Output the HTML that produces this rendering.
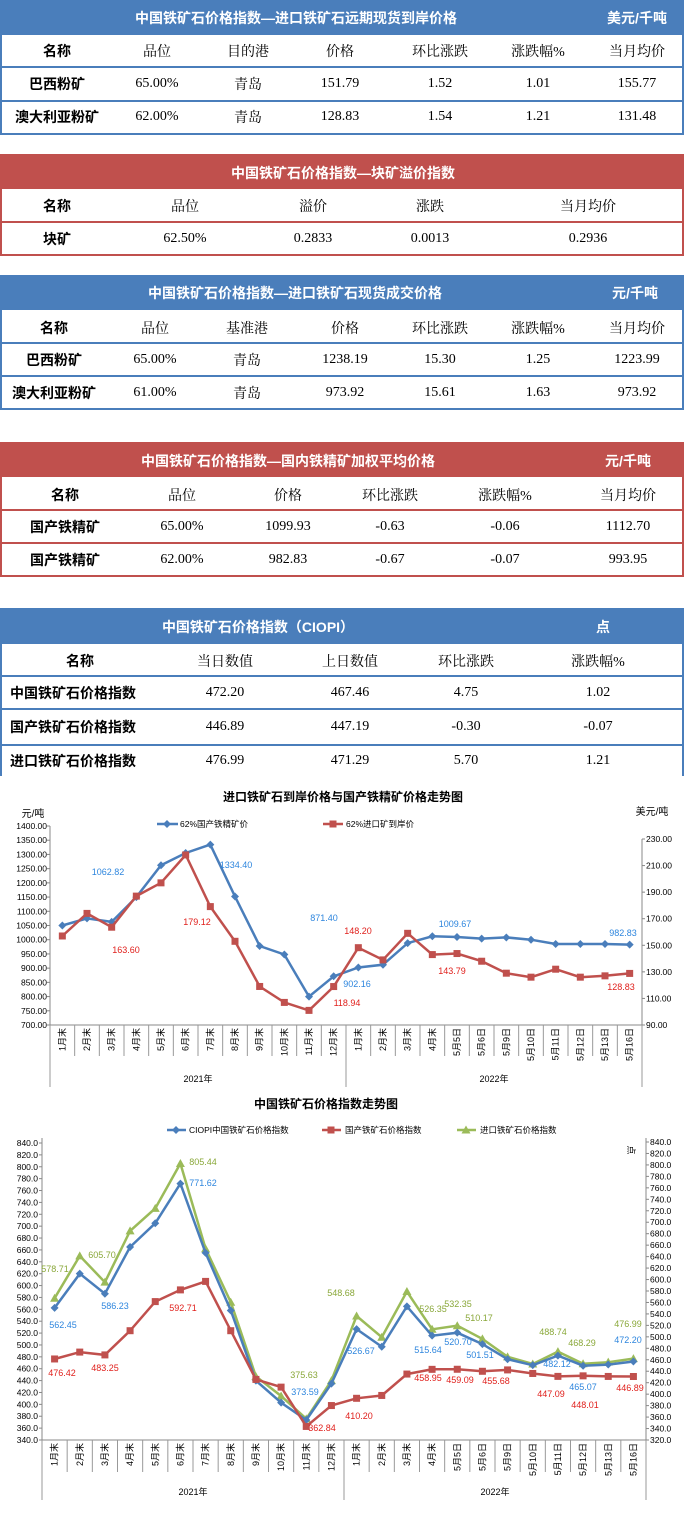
<!DOCTYPE html>
<html><head><meta charset="utf-8">
<style>
html,body{margin:0;padding:0;background:#fff;}
body{width:684px;height:1524px;position:relative;overflow:hidden;font-family:"Liberation Sans","Noto Sans CJK SC",sans-serif;}
.t{position:absolute;white-space:nowrap;transform:translate(-50%,-50%);font-size:14px;color:#000;font-family:"Liberation Serif","Noto Serif CJK SC",serif;}
.b{font-weight:bold;font-family:"Liberation Sans","Noto Sans CJK SC",sans-serif;}
.ti{color:#fff;font-weight:bold;font-size:14px;font-family:"Liberation Sans","Noto Sans CJK SC",sans-serif;}
.bar{position:absolute;left:0;width:684px;}
.ln{position:absolute;left:0;width:684px;height:2px;}
.vl{position:absolute;width:2px;}
svg{position:absolute;left:0;}
svg text{font-family:"Liberation Sans","Noto Sans CJK SC",sans-serif;}
</style></head><body>
<div id="root"></div>
<svg id="c1" width="684" height="1524" style="top:0"></svg>
<script>
var root=document.getElementById('root');
function el(h){root.insertAdjacentHTML('beforeend',h);}
function txt(x,y,s,cls){el('<div class="t '+(cls||'')+'" style="left:'+x+'px;top:'+y+'px">'+s+'</div>');}
function table(col,top,bottom,lines,noBottom){
  el('<div class="bar" style="top:'+top+'px;height:35px;background:'+col+'"></div>');
  lines.forEach(function(y){el('<div class="ln" style="top:'+y+'px;background:'+col+'"></div>');});
  el('<div class="vl" style="left:0;top:'+top+'px;height:'+(bottom-top)+'px;background:'+col+'"></div>');
  el('<div class="vl" style="left:682px;top:'+top+'px;height:'+(bottom-top)+'px;background:'+col+'"></div>');
  if(!noBottom) el('<div class="ln" style="top:'+(bottom-2)+'px;background:'+col+'"></div>');
}
var B='#4a7ebb',R='#c0504d';
table(B,0,135,[66,100]);
txt(296,18,'中国铁矿石价格指数—进口铁矿石远期现货到岸价格','ti');txt(637,18,'美元/千吨','ti');
var c1=[57,157,248,340,440,538,637];
['名称','品位','目的港','价格','环比涨跌','涨跌幅%','当月均价'].forEach(function(s,i){txt(c1[i],51,s,i==0?'b':'');});
['巴西粉矿','65.00%','青岛','151.79','1.52','1.01','155.77'].forEach(function(s,i){txt(c1[i],84,s,i==0?'b':'');});
['澳大利亚粉矿','62.00%','青岛','128.83','1.54','1.21','131.48'].forEach(function(s,i){txt(c1[i],117,s,i==0?'b':'');});
table(R,154,256,[221]);
txt(343,173,'中国铁矿石价格指数—块矿溢价指数','ti');
var c2=[57,185,313,430,588];
['名称','品位','溢价','涨跌','当月均价'].forEach(function(s,i){txt(c2[i],206,s,i==0?'b':'');});
['块矿','62.50%','0.2833','0.0013','0.2936'].forEach(function(s,i){txt(c2[i],239,s,i==0?'b':'');});
table(B,275,410,[342,375]);
txt(295,293,'中国铁矿石价格指数—进口铁矿石现货成交价格','ti');txt(635,293,'元/千吨','ti');
var c3=[54,155,247,345,440,538,637];
['名称','品位','基准港','价格','环比涨跌','涨跌幅%','当月均价'].forEach(function(s,i){txt(c3[i],328,s,i==0?'b':'');});
['巴西粉矿','65.00%','青岛','1238.19','15.30','1.25','1223.99'].forEach(function(s,i){txt(c3[i],360,s,i==0?'b':'');});
['澳大利亚粉矿','61.00%','青岛','973.92','15.61','1.63','973.92'].forEach(function(s,i){txt(c3[i],393,s,i==0?'b':'');});
table(R,442,577,[509,542]);
txt(288,461,'中国铁矿石价格指数—国内铁精矿加权平均价格','ti');txt(628,461,'元/千吨','ti');
var c4=[65,182,288,390,505,628];
['名称','品位','价格','环比涨跌','涨跌幅%','当月均价'].forEach(function(s,i){txt(c4[i],495,s,i==0?'b':'');});
['国产铁精矿','65.00%','1099.93','-0.63','-0.06','1112.70'].forEach(function(s,i){txt(c4[i],527,s,i==0?'b':'');});
['国产铁精矿','62.00%','982.83','-0.67','-0.07','993.95'].forEach(function(s,i){txt(c4[i],560,s,i==0?'b':'');});
table(B,608,776,[642,675,708,744],true);
txt(258,627,'中国铁矿石价格指数（CIOPI）','ti');txt(603,627,'点','ti');
var c5=[80,225,350,466,598];
['名称','当日数值','上日数值','环比涨跌','涨跌幅%'].forEach(function(s,i){txt(c5[i],661,s,i==0?'b':'');});
[['中国铁矿石价格指数','472.20','467.46','4.75','1.02',693],['国产铁矿石价格指数','446.89','447.19','-0.30','-0.07',727],['进口铁矿石价格指数','476.99','471.29','5.70','1.21',761]].forEach(function(r){
  for(var i=0;i<5;i++){ if(i==0) el('<div class="t b" style="left:10px;top:'+r[5]+'px;transform:translate(0,-50%)">'+r[0]+'</div>'); else txt(c5[i],r[5],r[i]); }
});

var svg=document.getElementById('c1'),S='';
function T(x,y,s,o){o=o||{};S+='<text x="'+x+'" y="'+y+'" font-size="'+(o.fs||9)+'" fill="'+(o.c||'#000')+'" text-anchor="'+(o.a||'middle')+'"'+(o.w?' font-weight="bold"':'')+(o.tr?' transform="'+o.tr+'"':'')+'>'+s+'</text>';}
function L(x1,y1,x2,y2,c,w){S+='<line x1="'+x1+'" y1="'+y1+'" x2="'+x2+'" y2="'+y2+'" stroke="'+(c||'#888')+'" stroke-width="'+(w||1)+'"/>';}
function marker(t,x,y,c){
  if(t=='d')S+='<polygon points="'+x+','+(y-4)+' '+(x+4)+','+y+' '+x+','+(y+4)+' '+(x-4)+','+y+'" fill="'+c+'"/>';
  else if(t=='s')S+='<rect x="'+(x-3.5)+'" y="'+(y-3.5)+'" width="7" height="7" fill="'+c+'"/>';
  else S+='<polygon points="'+x+','+(y-4.5)+' '+(x+4.5)+','+(y+3.5)+' '+(x-4.5)+','+(y+3.5)+'" fill="'+c+'"/>';
}
function series(vals,fx,fy,c,m){
  var p=vals.map(function(v,i){return fx(i).toFixed(1)+','+fy(v).toFixed(1);}).join(' ');
  S+='<polyline points="'+p+'" fill="none" stroke="'+c+'" stroke-width="2.5"/>';
  vals.forEach(function(v,i){marker(m,fx(i),fy(v),c);});
}
var cats=['1月末','2月末','3月末','4月末','5月末','6月末','7月末','8月末','9月末','10月末','11月末','12月末','1月末','2月末','3月末','4月末','5月5日','5月6日','5月9日','5月10日','5月11日','5月12日','5月13日','5月16日'];
function cataxis(x0,x1,yA,yDiv,yYear,yBot){
  var w=(x1-x0)/24;
  L(x0,yA,x1,yA,'#888');
  for(var i=0;i<=24;i++){var x=x0+i*w; L(x,yA,x,(i==0||i==12||i==24)?yBot:yDiv,'#999');}
  cats.forEach(function(s,i){var x=x0+(i+.5)*w+3;T(x,yA+3,s,{a:'end',fs:9,tr:'rotate(-90 '+x+' '+(yA+3)+')'});});
  T(x0+6*w,yYear,'2021年',{fs:9});T(x0+18*w,yYear,'2022年',{fs:9});
}
var BL='#4a7ebb',RD='#c0504d',GR='#9bbb59',LB='#2e86de',LR='#e0201c',LG='#8aa83a';
(function(){
  var x0=50,x1=642,yT=826,yB=1025;
  var fy=function(v){return yB-(v-700)/700*(yB-yT);};
  var fyr=function(v){return yB-(v-90)/140*(yB-839);};
  var w=(x1-x0)/24,fx=function(i){return x0+(i+.5)*w;};
  T(343,801,'进口铁矿石到岸价格与国产铁精矿价格走势图',{fs:12,w:1});
  T(33,817,'元/吨',{fs:10});T(652,815,'美元/吨',{fs:10});
  L(x0,yT,x0,1087,'#888');L(x1,839,x1,1087,'#888');
  for(var v=700;v<=1400;v+=50){L(x0-3,fy(v),x0,fy(v));T(x0-3,fy(v)+3,v.toFixed(2),{a:'end',fs:8.5});}
  for(var v=90;v<=230;v+=20){L(x1,fyr(v),x1+3,fyr(v));T(x1+4,fyr(v)+3,v.toFixed(2),{a:'start',fs:8.5});}
  cataxis(x0,x1,yB,1056,1082,1087);
  L(157,824,178,824,BL,2.5);marker('d',167,824,BL);T(180,827,'62%国产铁精矿价',{a:'start',fs:8.5});
  L(323,824,343,824,RD,2.5);marker('s',333,824,RD);T(346,827,'62%进口矿到岸价',{a:'start',fs:8.5});
  series([1050,1075,1062.82,1150,1262,1305,1334.4,1152,978,948,800,871.4,902.16,912,988,1012,1009.67,1004,1008,1000,985,985,985,982.83],fx,fy,BL,'d');
  series([157,174,163.6,187,197,218,179.12,153,119,107,101,118.94,148.2,139,159,143,143.79,138,129,126,132,126,127,128.83],fx,fyr,RD,'s');
  [[108,875,'1062.82'],[236,868,'1334.40'],[324,921,'871.40'],[357,987,'902.16'],[455,927,'1009.67'],[623,936,'982.83']].forEach(function(a){T(a[0],a[1],a[2],{c:LB});});
  [[126,953,'163.60'],[197,925,'179.12'],[358,934,'148.20'],[347,1006,'118.94'],[452,974,'143.79'],[621,990,'128.83']].forEach(function(a){T(a[0],a[1],a[2],{c:LR});});
})();
(function(){
  var x0=42,x1=646,yT=1143,yB=1440;
  var fy=function(v){return yB-(v-340)/500*(yB-yT);};
  var w=(x1-x0)/24,fx=function(i){return x0+(i+.5)*w;};
  T(326,1108,'中国铁矿石价格指数走势图',{fs:12,w:1});
  L(x0,1138,x0,1500,'#888');L(x1,1138,x1,1500,'#888');
  for(var v=340;v<=840;v+=20){L(x0-3,fy(v),x0,fy(v));T(x0-4,fy(v)+3,v.toFixed(1),{a:'end',fs:8.5});}
  for(var k=0;k<=26;k++){var v=320+k*20,y=1440-k*(298/26);L(x1,y,x1+3,y);T(x1+4,y+3,v.toFixed(1),{a:'start',fs:8.5});}
  T(628,1150,'点',{fs:9,tr:'rotate(90 628 1150)'});
  cataxis(x0,x1,yB,1472,1495,1500);
  L(167,1130,186,1130,BL,2.5);marker('d',176,1130,BL);T(189,1133,'CIOPI中国铁矿石价格指数',{a:'start',fs:8.5});
  L(322,1130,341,1130,RD,2.5);marker('s',331,1130,RD);T(345,1133,'国产铁矿石价格指数',{a:'start',fs:8.5});
  L(457,1130,476,1130,GR,2.5);marker('g',466,1130,GR);T(480,1133,'进口铁矿石价格指数',{a:'start',fs:8.5});
  series([578.71,650,605.70,692,730,805.44,662,572,447,414,375.63,440,548.68,513,590,526.35,532.35,510.17,480,468,488.74,468.29,471,476.99],fx,fy,GR,'g');
  series([562.45,620,586.23,665,705,771.62,655,558,440,403,373.59,435,526.67,497,565,515.64,520.70,501.51,476,466,482.12,465.07,467,472.20],fx,fy,BL,'d');
  series([476.42,488,483.25,524,573,592.71,607,524,442,429,362.84,398,410.2,415,451,458.95,459.09,455.68,458,452,447.09,448.01,447,446.89],fx,fy,RD,'s');
  [[55,1272,'578.71'],[102,1258,'605.70'],[203,1165,'805.44'],[304,1378,'375.63'],[341,1296,'548.68'],[433,1312,'526.35'],[458,1307,'532.35'],[479,1321,'510.17'],[553,1335,'488.74'],[582,1346,'468.29'],[628,1327,'476.99']].forEach(function(a){T(a[0],a[1],a[2],{c:LG});});
  [[63,1328,'562.45'],[115,1309,'586.23'],[203,1186,'771.62'],[305,1395,'373.59'],[361,1354,'526.67'],[428,1353,'515.64'],[458,1345,'520.70'],[480,1358,'501.51'],[557,1367,'482.12'],[583,1390,'465.07'],[628,1343,'472.20']].forEach(function(a){T(a[0],a[1],a[2],{c:LB});});
  [[62,1376,'476.42'],[105,1371,'483.25'],[183,1311,'592.71'],[322,1431,'362.84'],[359,1419,'410.20'],[428,1381,'458.95'],[460,1383,'459.09'],[496,1384,'455.68'],[551,1397,'447.09'],[585,1408,'448.01'],[630,1391,'446.89']].forEach(function(a){T(a[0],a[1],a[2],{c:LR});});
})();
svg.innerHTML=S;
</script>
</body></html>
